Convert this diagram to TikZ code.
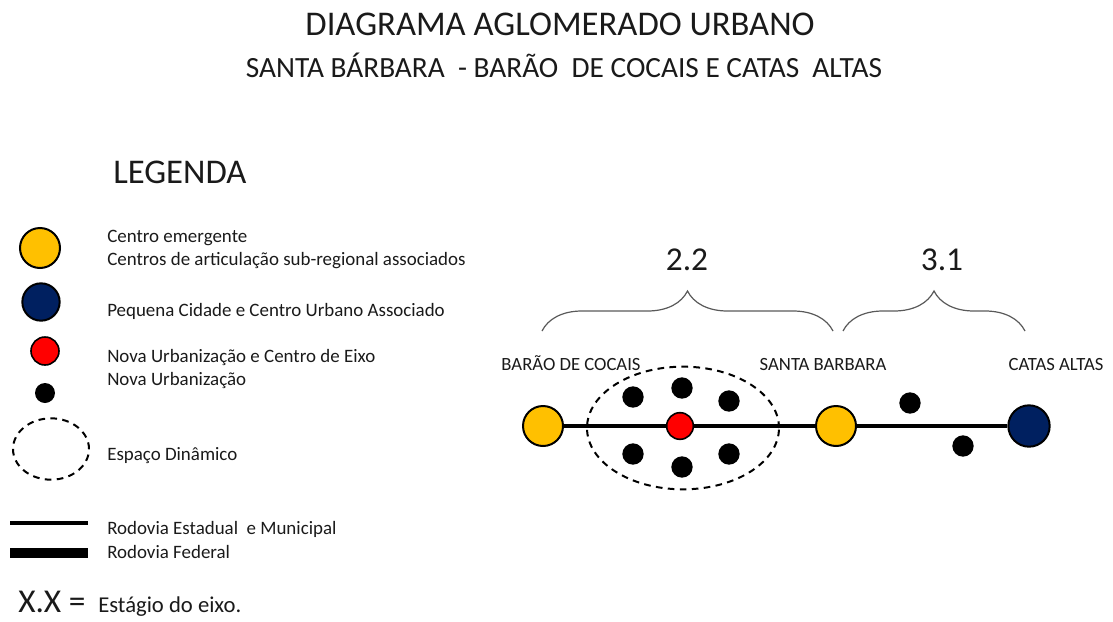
\documentclass[tikz,border=0pt]{standalone}
\usepackage{fontspec}
\setmainfont{Carlito}
\usetikzlibrary{shapes.geometric,decorations.pathreplacing}
\definecolor{amarelo}{HTML}{FFC000}
\definecolor{azul}{HTML}{002060}
\definecolor{texto}{HTML}{1A1A1A}

\begin{document}
\begin{tikzpicture}[x=0.75pt,y=-0.75pt,
  every node/.style={text=texto,inner sep=0pt},
  legtxt/.style={anchor=base west,font=\fontsize{14.2}{17}\selectfont},
  cidade/.style={anchor=base,font=\fontsize{14}{17}\selectfont},
  estagio/.style={anchor=base,font=\fontsize{25}{30}\selectfont},
  emergente/.style={circle,draw=black,line width=1.5pt,fill=amarelo,minimum size=30pt},
  pequena/.style={circle,draw=black,line width=1.5pt,fill=azul,minimum size=30pt},
  eixo/.style={circle,draw=black,line width=1.2pt,fill=red,minimum size=20pt},
  nova/.style={circle,fill=black,minimum size=16pt},
  dinamico/.style={ellipse,draw=black,line width=1.5pt,dash pattern=on 5pt off 4pt},
  rodovia/.style={line width=3.5pt},
  chave/.style={draw=black!65,line width=0.9pt,decorate,decoration={brace,amplitude=30pt}}]
\useasboundingbox (0,0) rectangle (1113,621);
% titulo
\node[anchor=base,font=\fontsize{26}{30}\selectfont] (titulo) at (560,35) {DIAGRAMA AGLOMERADO URBANO};
\node[anchor=base,font=\fontsize{22}{26}\selectfont] (subtitulo) at (564,77) {SANTA BÁRBARA \ - BARÃO \ DE COCAIS E CATAS \ ALTAS};
% legenda
\node[anchor=base west,font=\fontsize{26}{30}\selectfont] (legenda) at (113,183) {LEGENDA};
\node[emergente] (l1) at (40,248) {};
\node[pequena,minimum size=28pt] (l2) at (41,302) {};
\node[eixo,minimum size=21pt] (l3) at (45,351) {};
\node[nova,minimum size=15pt] (l4) at (45,393) {};
\node[dinamico,minimum width=57pt,minimum height=46pt] (l5) at (51,449) {};
\draw[line width=3pt] (10,523) -- (88,523);
\draw[line width=7.5pt] (10,553) -- (88,553);
\node[legtxt] (t1) at (107,242) {Centro emergente};
\node[legtxt] (t2) at (107,265) {Centros de articulação sub-regional associados};
\node[legtxt] (t3) at (107,316) {Pequena Cidade e Centro Urbano Associado};
\node[legtxt] (t4) at (107,362) {Nova Urbanização e Centro de Eixo};
\node[legtxt] (t5) at (107,385) {Nova Urbanização};
\node[legtxt] (t6) at (107,460) {Espaço Dinâmico};
\node[legtxt] (t7) at (107,534) {Rodovia Estadual \ e Municipal};
\node[legtxt] (t8) at (107,558) {Rodovia Federal};
\node[anchor=base west,font=\fontsize{25}{30}\selectfont] (xx) at (18,612) {X.X =};
\node[anchor=base west,font=\fontsize{17}{20}\selectfont] (t9) at (98,612) {Estágio do eixo.};
% diagrama
\node[dinamico,minimum width=144pt,minimum height=92pt] (espaco) at (683,428) {};
\node[emergente] (barao) at (543,426) {};
\node[emergente] (santa) at (836,426) {};
\node[pequena,minimum size=31pt] (catas) at (1029,426) {};
\node[eixo] (centro) at (680,426) {};
\draw[rodovia] (barao) -- (centro) -- (santa) -- (catas);
\node[nova] (n1) at (633,397) {};
\node[nova] (n2) at (682,388) {};
\node[nova] (n3) at (729,401) {};
\node[nova] (n4) at (633,454) {};
\node[nova] (n5) at (682,467) {};
\node[nova] (n6) at (729,454) {};
\node[nova] (n7) at (910,403) {};
\node[nova] (n8) at (963,446) {};
\node[cidade] (nbarao) at (571,370) {BARÃO DE COCAIS};
\node[cidade] (nsanta) at (823,370) {SANTA BARBARA};
\node[cidade] (ncatas) at (1056,370) {CATAS ALTAS};
\draw[chave] (542,331) -- (833,331);
\draw[chave] (843,331) -- (1025,331);
\node[estagio] (e22) at (687,270) {2.2};
\node[estagio] (e31) at (942,270) {3.1};
\end{tikzpicture}
\end{document}
